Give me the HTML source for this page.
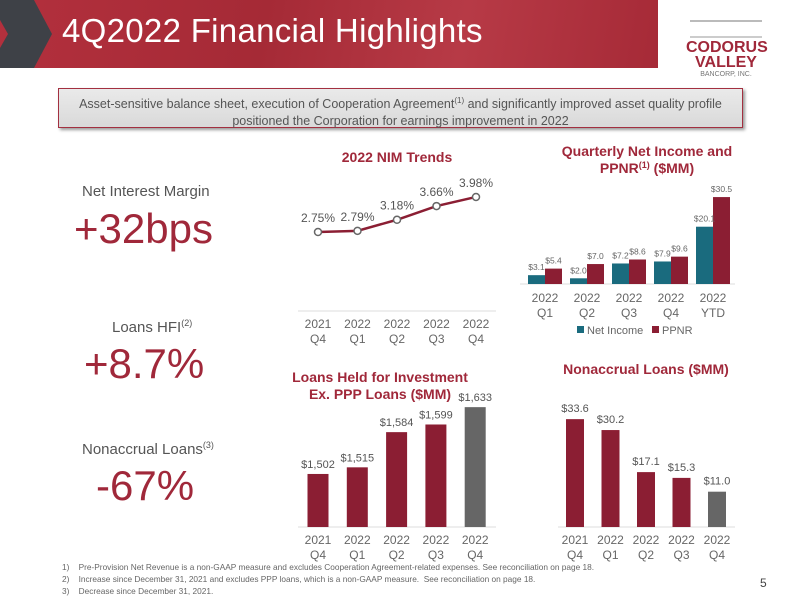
<!DOCTYPE html>
<html><head><meta charset="utf-8"><style>
body{margin:0;width:800px;height:600px;background:#fff;font-family:"Liberation Sans",sans-serif;position:relative;overflow:hidden}
.abs{position:absolute}
</style></head><body>
<div class="abs" style="left:0;top:0;width:658px;height:68px;background:linear-gradient(100deg,#b3303d 0%,#a52a36 40%,#b73a46 70%,#a62a37 100%)"></div>
<svg class="abs" style="left:0;top:0" width="60" height="68"><polygon points="0,0 34,0 52,34 34,68 0,68 0,48 8,34 0,20" fill="#3e4147"/></svg>
<div class="abs" style="left:62px;top:12px;color:#fff;font-size:33px;letter-spacing:0.3px">4Q2022 Financial Highlights</div>
<div class="abs" style="left:686px;top:20px;width:80px;text-align:center;color:#a0283a;font-weight:bold;line-height:15px">
<div style="height:14px;border-top:2px solid #bbb;border-bottom:2px solid #ccc;margin:0 4px 2px"></div>
<div style="font-size:16px">CODORUS</div><div style="font-size:16px">VALLEY</div><div style="font-size:7px;color:#777;font-weight:normal;line-height:9px">BANCORP, INC.</div></div>
<div class="abs" style="left:58px;top:88px;width:685px;height:40px;background:linear-gradient(#eaeaea,#d9d9d9);border:1px solid #a33040;box-shadow:2px 2px 3px #999;color:#555;font-size:12.5px;text-align:center;line-height:17px;padding-top:3px;box-sizing:border-box">Asset-sensitive balance sheet, execution of Cooperation Agreement<sup style="font-size:8px">(1)</sup> and significantly improved asset quality profile<br>positioned the Corporation for earnings improvement in 2022</div>

<div class="abs" style="left:82px;top:183px;color:#555;font-size:15px">Net Interest Margin</div>
<div class="abs" style="left:74px;top:205px;color:#a0283a;font-size:42px">+32bps</div>
<div class="abs" style="left:112px;top:318px;color:#555;font-size:15px">Loans HFI<sup style="font-size:9px">(2)</sup></div>
<div class="abs" style="left:84px;top:340px;color:#a0283a;font-size:42px">+8.7%</div>
<div class="abs" style="left:82px;top:440px;color:#555;font-size:15px">Nonaccrual Loans<sup style="font-size:9px">(3)</sup></div>
<div class="abs" style="left:96px;top:462px;color:#a0283a;font-size:42px">-67%</div>

<div class="abs" style="left:62px;top:561px;color:#666;font-size:8.3px;line-height:12px">
<div>1)&nbsp;&nbsp;&nbsp;&nbsp;Pre-Provision Net Revenue is a non-GAAP measure and excludes Cooperation Agreement-related expenses. See reconciliation on page 18.</div>
<div>2)&nbsp;&nbsp;&nbsp;&nbsp;Increase since December 31, 2021 and excludes PPP loans, which is a non-GAAP measure.&nbsp; See reconciliation on page 18.</div>
<div>3)&nbsp;&nbsp;&nbsp;&nbsp;Decrease since December 31, 2021.</div></div>
<div class="abs" style="left:760px;top:576px;color:#444;font-size:12px">5</div>

<svg id="charts" class="abs" style="left:0;top:0" width="800" height="600" font-family="Liberation Sans, sans-serif">
<text x="397" y="162" text-anchor="middle" fill="#a0283a" font-size="14" font-weight="bold">2022 NIM Trends</text>
<text x="647" y="156" text-anchor="middle" fill="#a0283a" font-size="14" font-weight="bold">Quarterly Net Income and</text>
<text x="647" y="173" text-anchor="middle" fill="#a0283a" font-size="14" font-weight="bold">PPNR<tspan font-size="9" dy="-5">(1)</tspan><tspan dy="5"> ($MM)</tspan></text>
<text x="380" y="382" text-anchor="middle" fill="#a0283a" font-size="14" font-weight="bold">Loans Held for Investment</text>
<text x="380" y="399" text-anchor="middle" fill="#a0283a" font-size="14" font-weight="bold">Ex. PPP Loans ($MM)</text>
<text x="646" y="374" text-anchor="middle" fill="#a0283a" font-size="14" font-weight="bold">Nonaccrual Loans ($MM)</text>
<g id="g"></g>
</svg>
<script>
const nimCats=[["2021","Q4"],["2022","Q1"],["2022","Q2"],["2022","Q3"],["2022","Q4"]];
const nimVals=[2.75,2.79,3.18,3.66,3.98];
const incCats=[["2022","Q1"],["2022","Q2"],["2022","Q3"],["2022","Q4"],["2022","YTD"]];
const netIncome=[3.1,2.0,7.2,7.9,20.1];
const ppnr=[5.4,7.0,8.6,9.6,30.5];
const loanCats=[["2021","Q4"],["2022","Q1"],["2022","Q2"],["2022","Q3"],["2022","Q4"]];
const loanVals=[1502,1515,1584,1599,1633];
const naCats=[["2021","Q4"],["2022","Q1"],["2022","Q2"],["2022","Q3"],["2022","Q4"]];
const naVals=[33.6,30.2,17.1,15.3,11.0];

const NS="http://www.w3.org/2000/svg",G=document.getElementById('g');
function el(t,a,txt){const e=document.createElementNS(NS,t);for(const k in a)e.setAttribute(k,a[k]);if(txt!==undefined)e.textContent=txt;G.appendChild(e);return e;}
function cats(list,x0,step,y){list.forEach((c,i)=>{
 const a=el('text',{x:x0+i*step,y:y,'text-anchor':'middle',fill:'#666','font-size':12},c[0]);
 
 
 const b=el('text',{x:x0+i*step,y:y+15,'text-anchor':'middle',fill:'#666','font-size':12},c[1]);
 
 });}

// NIM line
const nx=i=>318+i*39.5, ny=v=>232-(v-2.75)*28.5;
el('line',{x1:298,x2:496,y1:311,y2:311,stroke:'#ddd'});
let d=nimVals.map((v,i)=>(i?'L':'M')+nx(i)+','+ny(v)).join(' ');
const ln=el('path',{d:d,fill:'none',stroke:'#8b1e33','stroke-width':2.5});


nimVals.forEach((v,i)=>{
 const p=el('circle',{cx:nx(i),cy:ny(v),r:3.5,fill:'#fff',stroke:'#666','stroke-width':1.5});
 
 
 const t=el('text',{x:nx(i),y:ny(v)-10,'text-anchor':'middle',fill:'#555','font-size':12},v.toFixed(2)+'%');
 
 });
cats(nimCats,nx(0),39.5,328);

// Income grouped bars
const ix=i=>528+i*42, iy=v=>284-v*2.85, bw=17;
el('line',{x1:520,x2:735,y1:284,y2:284,stroke:'#ddd'});
incCats.forEach((c,i)=>{
 const a=el('rect',{x:ix(i),y:iy(netIncome[i]),width:bw,height:284-iy(netIncome[i]),fill:'#1a6b7e'});
 
 
 const b=el('rect',{x:ix(i)+bw,y:iy(ppnr[i]),width:bw,height:284-iy(ppnr[i]),fill:'#8b1e33'});
 
 
 const t1=el('text',{x:ix(i)+bw/2,y:iy(netIncome[i])-5,'text-anchor':'middle',fill:'#666','font-size':8.5},'$'+netIncome[i].toFixed(1));
 
 
 const t2=el('text',{x:ix(i)+bw*1.5,y:iy(ppnr[i])-5,'text-anchor':'middle',fill:'#666','font-size':8.5},'$'+ppnr[i].toFixed(1));
 
 });
cats(incCats,ix(0)+bw,42,302);
const l1=el('rect',{x:577,y:326,width:7,height:7,fill:'#1a6b7e'});


el('text',{x:587,y:334,fill:'#666','font-size':11},'Net Income');
const l2=el('rect',{x:652,y:326,width:7,height:7,fill:'#8b1e33'});


el('text',{x:662,y:334,fill:'#666','font-size':11},'PPNR');

// Loans bars
const lx=i=>318+i*39.3, ly=v=>527-(v-1398)*0.51, lw=21;
el('line',{x1:298,x2:496,y1:527,y2:527,stroke:'#ddd'});
loanVals.forEach((v,i)=>{
 const r=el('rect',{x:lx(i)-lw/2,y:ly(v),width:lw,height:527-ly(v),fill:i==4?'#666':'#8b1e33'});
 
 
 const t=el('text',{x:lx(i),y:ly(v)-6,'text-anchor':'middle',fill:'#555','font-size':11},'$'+v.toLocaleString('en-US'));
 
 });
cats(loanCats,lx(0),39.3,544);

// Nonaccrual bars
const ax=i=>575+i*35.5, ay=v=>527-v*3.21, aw=18;
el('line',{x1:558,x2:735,y1:527,y2:527,stroke:'#ddd'});
naVals.forEach((v,i)=>{
 const r=el('rect',{x:ax(i)-aw/2,y:ay(v),width:aw,height:527-ay(v),fill:i==4?'#666':'#8b1e33'});
 
 
 const t=el('text',{x:ax(i),y:ay(v)-7,'text-anchor':'middle',fill:'#555','font-size':11},'$'+v.toFixed(1));
 
 });
cats(naCats,ax(0),35.5,544);
</script>
</body></html>
